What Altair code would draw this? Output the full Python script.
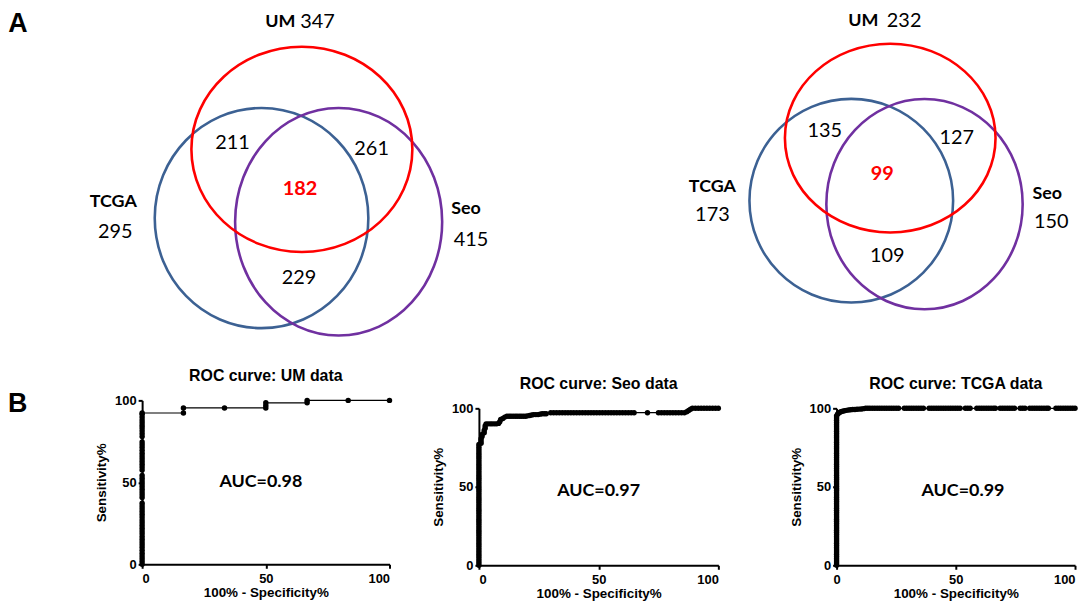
import altair as alt
import pandas as pd

# ======================= DATA =======================
# Panel A: Venn counts (order: UM, TCGA, Seo)
venn_sets = ["UM", "TCGA", "Seo"]
venn1_totals = [347, 295, 415]
venn1_pairs = [211, 261, 229]      # UM&TCGA, UM&Seo, TCGA&Seo
venn1_all = 182
venn2_totals = [232, 173, 150]
venn2_pairs = [135, 127, 109]
venn2_all = 99

# Panel B: ROC curves (x = 100% - Specificity%, y = Sensitivity%)
roc_titles = ["ROC curve: UM data", "ROC curve: Seo data", "ROC curve: TCGA data"]
auc_labels = ["AUC=0.98", "AUC=0.97", "AUC=0.99"]

um_col_sens = [0.0, 1.7, 3.4, 5.1, 6.8, 8.5, 10.2, 11.9, 13.6, 15.3, 16.9, 18.6, 20.3, 22.0,
               23.7, 25.4, 27.1, 28.8, 30.5, 32.2, 33.9, 35.6, 37.3, 40.7, 42.4, 44.1, 45.8,
               47.5, 49.2, 50.8, 52.5, 54.2, 57.6, 59.3, 61.0, 62.7, 64.4, 66.1, 67.8, 69.5,
               71.2, 72.9, 74.6, 77.9, 79.7, 81.4, 83.1, 84.7, 86.4, 88.1, 89.8, 91.5, 92.3]
um_tail_fpr = [16.7, 16.7, 33.3, 50.0, 50.0, 50.0, 66.7, 66.7, 83.3, 100.0]
um_tail_sens = [92.3, 95.4, 95.4, 95.4, 96.9, 98.5, 98.5, 100.0, 100.0, 100.0]

seo_col_sens = [0.0, 1.4, 2.8, 4.2, 5.6, 7.0, 8.4, 9.8, 11.2, 12.6, 14.0, 15.4, 16.8, 18.2,
                19.6, 21.0, 22.4, 23.8, 25.2, 26.6, 28.0, 29.4, 30.8, 32.2, 33.6, 35.0, 36.4,
                37.8, 39.2, 40.6, 42.0, 43.4, 44.8, 46.2, 47.6, 49.0, 50.4, 51.8, 53.2, 54.6,
                56.0, 57.4, 58.8, 60.2, 61.6, 63.0, 64.4, 65.8, 67.2, 68.6, 70.0, 71.4, 72.8,
                74.2, 75.6, 77.0]
seo_step_fpr = [0.9, 0.9, 0.9, 1.3, 1.3, 2.2, 2.2, 2.6, 2.6, 3.0,
                3.9, 4.8, 5.6, 6.5, 7.4, 8.2, 8.7, 9.1, 10.0, 10.8,
                11.7, 12.6, 13.4, 14.3, 15.2, 16.0, 16.9, 17.7, 18.6, 19.5,
                20.3, 21.2, 22.1, 22.9, 23.8, 24.7, 25.5, 26.4, 27.3, 28.1, 30.0]
seo_step_sens = [77.8, 79.2, 80.6, 82.0, 83.4, 84.5, 85.9, 87.3, 88.7, 90.1,
                 90.1, 90.1, 90.1, 90.1, 90.1, 90.4, 91.5, 92.9, 93.5, 94.4,
                 95.0, 95.0, 95.0, 95.0, 95.0, 95.0, 95.0, 95.0, 95.0, 95.0,
                 95.2, 95.4, 95.7, 96.0, 96.0, 96.0, 96.3, 96.6, 96.6, 96.6, 97.2]
seo_row97_fpr = [31.2, 32.4, 33.6, 34.8, 36.0, 37.2, 38.4, 39.6, 40.8, 42.0, 43.2, 44.4,
                 45.6, 46.8, 48.0, 49.2, 50.4, 51.6, 52.8, 54.0, 55.2, 56.4, 57.6, 58.8,
                 60.0, 61.2, 62.4, 63.6, 64.8, 70.4, 75.0, 76.2, 77.4, 78.6, 79.8, 81.0,
                 82.2, 83.4, 84.6, 85.8]
seo_row97_sens = 97.2
seo_rise_fpr = [86.8, 87.6, 88.4, 89.2]
seo_rise_sens = [97.8, 98.6, 99.4, 100.0]
seo_row100_fpr = [90.4, 91.6, 92.8, 94.0, 95.2, 96.4, 97.6, 98.8, 100.0]

tcga_col_sens = [0.0, 1.4, 2.8, 4.2, 5.6, 7.0, 8.4, 9.8, 11.2, 12.6, 14.0, 15.4, 16.8, 18.2,
                 19.6, 21.0, 22.4, 23.8, 25.2, 26.6, 28.0, 29.4, 30.8, 32.2, 33.6, 35.0, 36.4,
                 37.8, 39.2, 40.6, 42.0, 43.4, 44.8, 46.2, 47.6, 49.0, 50.4, 51.8, 53.2, 54.6,
                 56.0, 57.4, 58.8, 60.2, 61.6, 63.0, 64.4, 65.8, 67.2, 68.6, 70.0, 71.4, 72.8,
                 74.2, 75.6, 77.0, 78.4, 79.8, 81.2, 82.6, 84.0, 85.4, 86.8, 88.2, 89.6, 91.0,
                 92.4, 93.8, 95.2]
tcga_curve_fpr = [0.4, 0.8, 1.2, 1.8, 2.5, 3.3, 4.1, 5.0, 5.9, 6.8, 7.7, 8.6, 9.5, 10.4, 11.3, 12.2]
tcga_curve_sens = [96.2, 96.9, 97.4, 97.8, 98.1, 98.4, 98.7, 98.9, 99.1, 99.2, 99.3, 99.4,
                   99.5, 99.6, 99.8, 100.0]
tcga_row100_fpr = [13.1, 14.0, 15.0, 16.0, 17.0, 18.0, 19.0, 20.0, 21.0, 22.0, 23.0, 24.0,
                   25.0, 26.0, 28.4, 29.4, 30.4, 31.4, 32.4, 33.4, 34.4, 35.4, 36.4, 38.8,
                   39.8, 40.8, 41.8, 42.8, 43.8, 44.8, 45.8, 46.8, 47.8, 48.8, 49.8, 50.8,
                   51.8, 54.0, 55.0, 56.0, 58.8, 59.8, 60.8, 61.8, 62.8, 63.8, 64.8, 65.8,
                   66.6, 68.6, 69.6, 70.6, 71.6, 72.6, 73.6, 74.6, 77.0, 78.0, 79.0, 81.0,
                   82.0, 83.0, 84.0, 85.0, 86.0, 87.0, 88.0, 88.8, 92.0, 93.0, 94.0, 95.0,
                   96.0, 97.0, 98.0, 99.0, 100.0]

# annotation anchor (data units) for the AUC texts
auc_pos = [(48, 50), (50, 47.5), (53, 47.5)]

# ======================= LAYOUT / STYLE =======================
ROC1_LEFT = 135          # left overhang of the bottom row (space for the "B" letter)
VENN_W, VENN_H = 1068, 329
set_colors = ["#FF0000", "#3C6193", "#7030A0"]
# ellipse geometry per diagram: (cx, cy, rx, ry) for UM, TCGA, Seo
venn_geom = [
    [(295.8, 140.3, 111.2, 103.3), (255.2, 209.5, 107.5, 110.8), (332.8, 213.2, 104.2, 114.5)],
    [(888.0, 129.0, 106.0, 95.0), (848.8, 192.0, 102.5, 102.5), (922.5, 195.5, 98.8, 105.8)],
]
venn_setlabel_pos = [[(274, 12), (106, 193), (461, 200)], [(861, 11), (709, 178), (1046, 185)]]
venn_total_pos = [[(311.5, 12), (108, 224), (466, 232)], [(902, 11), (709, 206), (1050, 213)]]
venn_pair_pos = [[(226, 134), (366, 140), (293, 270)], [(822, 122), (955, 129), (885, 248)]]
venn_center_pos = [(294, 180), (880, 165)]

VFONT = "Lato"
AFONT = "Liberation Sans"


def ellipse_path(k):
    c = 0.5523
    return (f"M1,0 C1,{c*k:.4f} {c:.4f},{k:.4f} 0,{k:.4f} "
            f"C{-c:.4f},{k:.4f} -1,{c*k:.4f} -1,0 "
            f"C-1,{-c*k:.4f} {-c:.4f},{-k:.4f} 0,{-k:.4f} "
            f"C{c:.4f},{-k:.4f} 1,{-c*k:.4f} 1,0 Z")


# ---------- Venn panel ----------
circ_rows = []
for d in range(2):
    for i in (1, 2, 0):  # TCGA, Seo, then UM on top
        cx, cy, rx, ry = venn_geom[d][i]
        circ_rows.append({"x": cx, "y": cy, "shape": ellipse_path(ry / rx),
                          "size": (2 * rx) ** 2, "color": set_colors[i]})
circ_df = pd.DataFrame(circ_rows)

label_rows, num_rows, center_rows = [], [], []
for d, (totals, pairs, allv) in enumerate([(venn1_totals, venn1_pairs, venn1_all),
                                            (venn2_totals, venn2_pairs, venn2_all)]):
    for i in range(3):
        label_rows.append({"x": venn_setlabel_pos[d][i][0], "y": venn_setlabel_pos[d][i][1],
                           "t": venn_sets[i]})
        num_rows.append({"x": venn_total_pos[d][i][0], "y": venn_total_pos[d][i][1],
                         "t": str(totals[i])})
        num_rows.append({"x": venn_pair_pos[d][i][0], "y": venn_pair_pos[d][i][1],
                         "t": str(pairs[i])})
    center_rows.append({"x": venn_center_pos[d][0], "y": venn_center_pos[d][1], "t": str(allv)})

# the Venn view starts where the ROC plots' column origin is; the scale extends to the left
vx = alt.X("x:Q", scale=alt.Scale(domain=[ROC1_LEFT, VENN_W], nice=False, zero=False), axis=None)
vy = alt.Y("y:Q", scale=alt.Scale(domain=[0, VENN_H], nice=False, zero=False, reverse=True), axis=None)

circles = alt.Chart(circ_df).mark_point(filled=False, strokeWidth=2.6, opacity=1).encode(
    x=vx, y=vy,
    shape=alt.Shape("shape:N", scale=None),
    size=alt.Size("size:Q", scale=None),
    color=alt.Color("color:N", scale=None),
)
set_labels = alt.Chart(pd.DataFrame(label_rows)).mark_text(
    font=VFONT, fontWeight="bold", fontSize=18, color="black", baseline="middle").encode(
    x=vx, y=vy, text="t:N")
numbers = alt.Chart(pd.DataFrame(num_rows)).mark_text(
    font=VFONT, fontSize=20, color="black", baseline="middle").encode(x=vx, y=vy, text="t:N")
centers = alt.Chart(pd.DataFrame(center_rows)).mark_text(
    font=VFONT, fontWeight="bold", fontSize=20, color="#FF0000", baseline="middle").encode(
    x=vx, y=vy, text="t:N")
letter_a = alt.Chart(pd.DataFrame({"x": [10], "y": [14], "t": ["A"]})).mark_text(
    font=AFONT, fontWeight="bold", fontSize=27, color="black", baseline="middle").encode(
    x=vx, y=vy, text="t:N")

venn = alt.layer(circles, set_labels, numbers, centers, letter_a).properties(
    width=VENN_W - ROC1_LEFT, height=VENN_H)


# ---------- ROC panels ----------
def roc_panel(fpr, sens, title, auc, pos, width, height, top_gap=0, letter=None, flush_end=False):
    df = pd.DataFrame({"fpr": fpr, "sens": sens, "step": list(range(len(fpr)))})
    xaxis_kw = dict(values=[0, 50, 100], title="100% - Specificity%")
    if flush_end:
        xaxis_kw["labelAlign"] = {"condition": {"test": "datum.value >= 100", "value": "right"},
                                  "value": "center"}
    xenc = alt.X("fpr:Q", scale=alt.Scale(domain=[0, 100], nice=False, zero=False),
                 axis=alt.Axis(**xaxis_kw))
    yenc = alt.Y("sens:Q", scale=alt.Scale(domain=[0, 100], nice=False, zero=False,
                                           range=[height, top_gap]),
                 axis=alt.Axis(values=[0, 50, 100], title="Sensitivity%"))
    base = alt.Chart(df)
    line = base.mark_line(color="black", strokeWidth=1.2).encode(x=xenc, y=yenc, order="step:Q")
    dots = base.mark_circle(color="black", size=30, opacity=1).encode(x=xenc, y=yenc)
    auc_t = alt.Chart(pd.DataFrame({"fpr": [pos[0]], "sens": [pos[1]], "t": [auc]})).mark_text(
        font=VFONT, fontWeight="bold", fontSize=18, color="black", baseline="middle").encode(
        x=xenc, y=yenc, text="t:N")
    title_t = alt.Chart(pd.DataFrame({"t": [title]})).mark_text(
        font=AFONT, fontWeight="bold", fontSize=16, color="black", align="center",
        baseline="alphabetic").encode(x=alt.value(width / 2), y=alt.value(top_gap - 19), text="t:N")
    layers = [line, dots, auc_t, title_t]
    if letter is not None:
        layers.append(alt.Chart(pd.DataFrame({"t": [letter]})).mark_text(
            font=AFONT, fontWeight="bold", fontSize=27, color="black", align="left",
            baseline="middle").encode(x=alt.value(-ROC1_LEFT), y=alt.value(4), text="t:N"))
    return alt.layer(*layers).properties(width=width, height=height)


um_fpr = [0.0] * len(um_col_sens) + um_tail_fpr
um_sens = um_col_sens + um_tail_sens
seo_fpr = ([0.0] * len(seo_col_sens) + seo_step_fpr + seo_row97_fpr + seo_rise_fpr
           + seo_row100_fpr)
seo_sens = (seo_col_sens + seo_step_sens + [seo_row97_sens] * len(seo_row97_fpr)
            + seo_rise_sens + [100.0] * len(seo_row100_fpr))
tcga_fpr = [0.0] * len(tcga_col_sens) + tcga_curve_fpr + tcga_row100_fpr
tcga_sens = tcga_col_sens + tcga_curve_sens + [100.0] * len(tcga_row100_fpr)

roc1 = roc_panel(um_fpr, um_sens, roc_titles[0], auc_labels[0], auc_pos[0], 249, 165, letter="B")
roc2 = roc_panel(seo_fpr, seo_sens, roc_titles[1], auc_labels[1], auc_pos[1], 241, 166, top_gap=8)
roc3 = roc_panel(tcga_fpr, tcga_sens, roc_titles[2], auc_labels[2], auc_pos[2], 240, 166,
                 top_gap=8, flush_end=True)

bottom = alt.hconcat(alt.hconcat(roc1, roc2, spacing=39), roc3, spacing=68)

chart = alt.vconcat(venn, bottom, spacing=28).properties(padding=0).configure_view(
    stroke=None
).configure_axis(
    domainColor="black", domainWidth=2, tickColor="black", tickWidth=2, tickSize=4,
    labelFont=AFONT, labelFontWeight="bold", labelFontSize=13, labelColor="black",
    titleFont=AFONT, titleFontWeight="bold", titleFontSize=13.5, titleColor="black",
    grid=False,
).configure_axisX(labelPadding=4, titlePadding=0).configure_axisY(labelPadding=2, titlePadding=6)

chart.save("out.html", embed_options={"renderer": "svg", "actions": False})
